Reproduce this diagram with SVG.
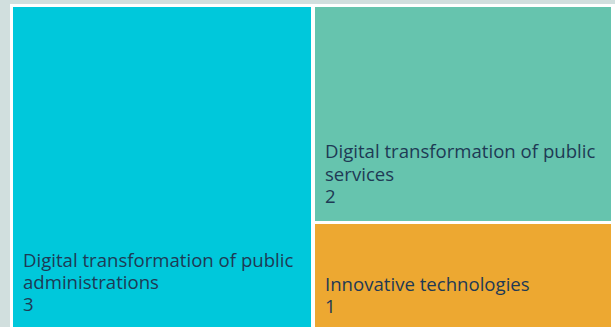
<svg xmlns="http://www.w3.org/2000/svg" width="615" height="327" viewBox="0 0 615 327">
<style>
.t{font-family:"Open Sans","Noto Sans",sans-serif;font-size:18.6px;fill:#1e3a55}
</style>
<rect x="0" y="0" width="615" height="327" fill="#d1dfde"/>
<rect x="10" y="4" width="605" height="323" fill="#ffffff"/>
<g id="node-admin">
<rect x="13" y="7" width="298" height="320" fill="#00c8db"/>
<text class="t" x="23" y="266.5">Digital transformation of public<tspan x="23" dy="22.3">administrations</tspan><tspan x="23" dy="22.3">3</tspan></text>
</g>
<g id="node-services">
<rect x="315" y="7" width="296" height="214" fill="#66c4ae"/>
<text class="t" x="325" y="158">Digital transformation of public<tspan x="325" dy="22.5">services</tspan><tspan x="325" dy="22.5">2</tspan></text>
</g>
<g id="node-innovative">
<rect x="315" y="224" width="296" height="103" fill="#eda831"/>
<text class="t" x="325" y="290.5">Innovative technologies<tspan x="325" dy="22.5">1</tspan></text>
</g>
<g id="connectors"/>
</svg>
